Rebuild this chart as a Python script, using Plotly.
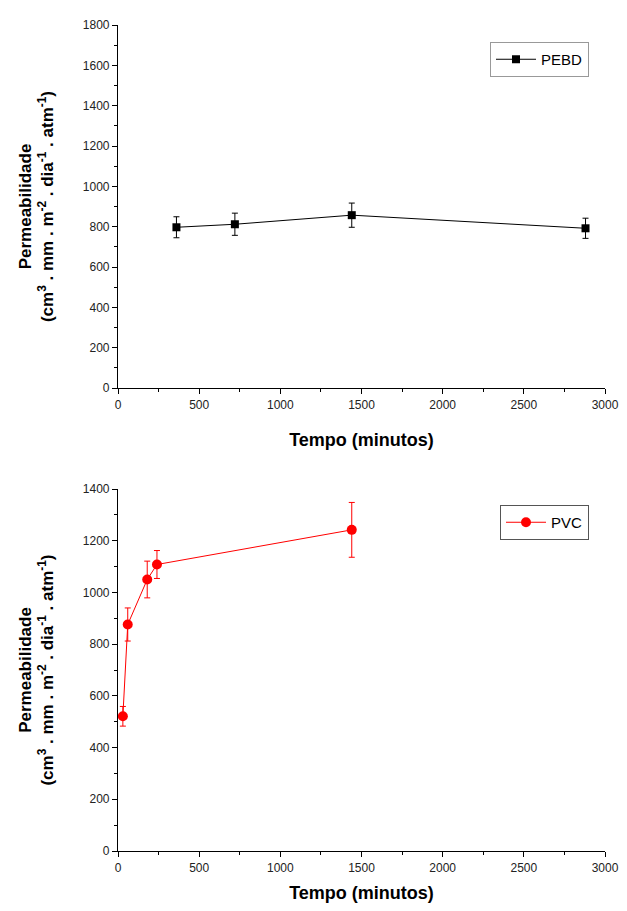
import plotly.graph_objects as go

# PEBD (topo)
tempo_pebd = [360, 720, 1440, 2880]
perm_pebd = [797, 812, 857, 792]
erro_pebd = [52, 55, 60, 50]

# PVC (baixo)
tempo_pvc = [30, 60, 180, 240, 1440]
perm_pvc = [521, 876, 1050, 1108, 1242]
erro_pvc = [38, 64, 71, 54, 106]

# a pagina tem 8px de margem no body: a figura fica menor e desloca tudo
OFF = 8
W, H = 627 - 2 * OFF, 911 - 2 * OFF
FONT = "Liberation Sans, Arial, sans-serif"
ytitle = ("<b>Permeabilidade</b><br><b>(cm<sup>3</sup> . mm . m<sup>-2</sup> . "
          "dia<sup>-1</sup> . atm<sup>-1</sup>)</b>")


def px_x(p):
    return (p - OFF) / W


def px_y(p):
    return 1 - (p - OFF) / H


fig = go.Figure()
fig.add_trace(go.Scatter(
    x=tempo_pebd, y=perm_pebd, name="PEBD", mode="lines+markers",
    line=dict(color="black", width=1),
    marker=dict(symbol="square", size=8, color="black"),
    error_y=dict(type="data", array=erro_pebd, color="black", thickness=1, width=3),
    xaxis="x", yaxis="y", legend="legend"))
fig.add_trace(go.Scatter(
    x=tempo_pvc, y=perm_pvc, name="PVC", mode="lines+markers",
    line=dict(color="red", width=1),
    marker=dict(symbol="circle", size=10, color="red"),
    error_y=dict(type="data", array=erro_pvc, color="red", thickness=1, width=3),
    xaxis="x2", yaxis="y2", legend="legend2"))

eixo = dict(showline=True, linecolor="black", linewidth=1.2, ticks="outside",
            ticklen=5, tickwidth=1, tickcolor="black", showgrid=False,
            zeroline=False, mirror=False, automargin=False,
            ticklabeloverflow="allow",
            tickfont=dict(family=FONT, size=12, color="#222"))
titulo_y = dict(family=FONT, size=17, color="black")
titulo_x = dict(family=FONT, size=18, color="black")
minor_x = dict(ticks="outside", dtick=250, ticklen=3, tickcolor="black")
minor_y = dict(ticks="outside", dtick=100, ticklen=3, tickcolor="black")

fig.update_layout(
    template="none",
    width=W, height=H, margin=dict(l=0, r=0, t=0, b=0),
    paper_bgcolor="white", plot_bgcolor="white", showlegend=True,
    xaxis=dict(eixo, domain=[px_x(118), px_x(605)], anchor="y", range=[0, 3000],
               dtick=500, minor=minor_x,
               title=dict(text="<b>Tempo (minutos)</b>", font=titulo_x, standoff=22)),
    yaxis=dict(eixo, domain=[px_y(388), px_y(25)], anchor="x", range=[0, 1800],
               dtick=200, minor=minor_y,
               title=dict(text=ytitle, font=titulo_y, standoff=24)),
    xaxis2=dict(eixo, domain=[px_x(118), px_x(605)], anchor="y2", range=[0, 3000],
                dtick=500, minor=minor_x,
                title=dict(text="<b>Tempo (minutos)</b>", font=titulo_x, standoff=24)),
    yaxis2=dict(eixo, domain=[px_y(851), px_y(489)], anchor="x2", range=[0, 1400],
                dtick=200, minor=minor_y,
                title=dict(text=ytitle, font=titulo_y, standoff=24)),
    legend=dict(x=px_x(589), y=px_y(42), xanchor="right", yanchor="top",
                bordercolor="#999", borderwidth=1, bgcolor="white", itemwidth=40,
                font=dict(family=FONT, size=15, color="black")),
    legend2=dict(x=px_x(589), y=px_y(505), xanchor="right", yanchor="top",
                 bordercolor="#555", borderwidth=1, bgcolor="white", itemwidth=40,
                 font=dict(family=FONT, size=15, color="black")),
)

fig.write_html("out.html")
